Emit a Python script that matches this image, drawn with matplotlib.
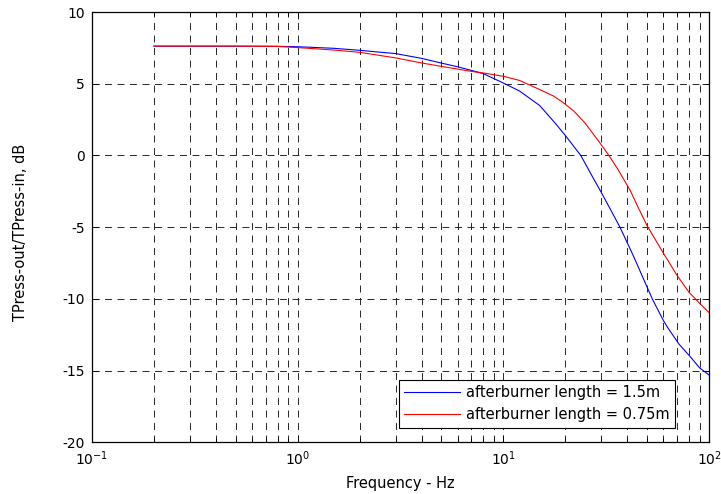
import matplotlib.pyplot as plt
import numpy as np

plt.rcParams['font.family'] = ['DejaVu Sans']
plt.rcParams['mathtext.default'] = 'regular'
plt.rcParams['axes.unicode_minus'] = False
plt.rcParams['lines.scale_dashes'] = False

# afterburner length = 1.5m
freq_long = [0.2, 0.5, 0.8, 1, 1.5, 2, 3, 4, 5, 6, 7, 8, 10, 12, 15, 18, 20, 23.8, 27, 30,
             33, 36.9, 40, 43.2, 48, 53, 60, 63, 71.4, 81.6, 90, 100]
gain_long = [7.62, 7.62, 7.61, 7.58, 7.47, 7.33, 7.10, 6.77, 6.44, 6.18, 5.93, 5.70, 5.05, 4.49, 3.49, 2.2, 1.4, 0.0, -1.43, -2.6,
             -3.7, -5.0, -6.07, -7.1, -8.6, -10.0, -11.5, -12.0, -13.14, -14.07, -14.8, -15.3]

# afterburner length = 0.75m
freq_short = [0.2, 0.5, 0.8, 1, 1.5, 2, 3, 4, 5, 7, 8, 10, 12, 13, 15, 17.5, 19.4, 22, 25, 29.7, 32.6, 36,
              41.4, 45, 50, 59, 70, 80, 86, 90, 100]
gain_short = [7.62, 7.62, 7.60, 7.52, 7.35, 7.19, 6.80, 6.45, 6.21, 5.86, 5.75, 5.52, 5.23, 5.0, 4.6, 4.15, 3.72, 3.1, 2.25, 0.81, 0.0, -0.95,
              -2.44, -3.55, -4.9, -6.63, -8.37, -9.54, -10.0, -10.3, -10.95]

labels = ['afterburner length = 1.5m', 'afterburner length = 0.75m']

fig = plt.figure(figsize=(7.21, 4.94), dpi=100)
ax = fig.add_axes([0.1276, 0.1043, 0.8558, 0.8714])

ax.semilogx(freq_long, gain_long, color='blue', linewidth=0.8, label=labels[0])
ax.semilogx(freq_short, gain_short, color='red', linewidth=0.8, label=labels[1])

ax.set_xlim(0.1, 100)
ax.set_ylim(-20, 10)
ax.set_yticks(np.arange(-20, 11, 5))

# matlab style dashed grid, minor lines on the log axis too
ax.grid(True, which='major', color='0.15', linestyle=(0, (5, 4)), linewidth=0.7)
ax.grid(True, which='minor', axis='x', color='0.15', linestyle=(0, (5, 4)), linewidth=0.7)
ax.set_axisbelow(True)

ax.tick_params(which='both', direction='in', top=True, right=True, labelsize=10, colors='black')
ax.tick_params(which='major', length=5, width=0.6, pad=5)
ax.tick_params(which='minor', length=3, width=0.6)
for s in ax.spines.values():
    s.set_linewidth(0.9)

ax.set_xlabel('Frequency - Hz', fontsize=10.5)
ax.set_ylabel('TPress-out/TPress-in, dB', fontsize=10.5)
ax.xaxis.set_label_coords(0.5, -0.077)
ax.yaxis.set_label_coords(-0.104, 0.488)

leg = ax.legend(loc='lower right', bbox_to_anchor=(0.945, 0.034), fontsize=10.5, fancybox=False,
                framealpha=1, edgecolor='black', handlelength=3.8, handletextpad=0.4,
                borderpad=0.4, labelspacing=0.45, borderaxespad=0)
leg.get_frame().set_linewidth(0.8)

plt.savefig('out.png', dpi=100)
